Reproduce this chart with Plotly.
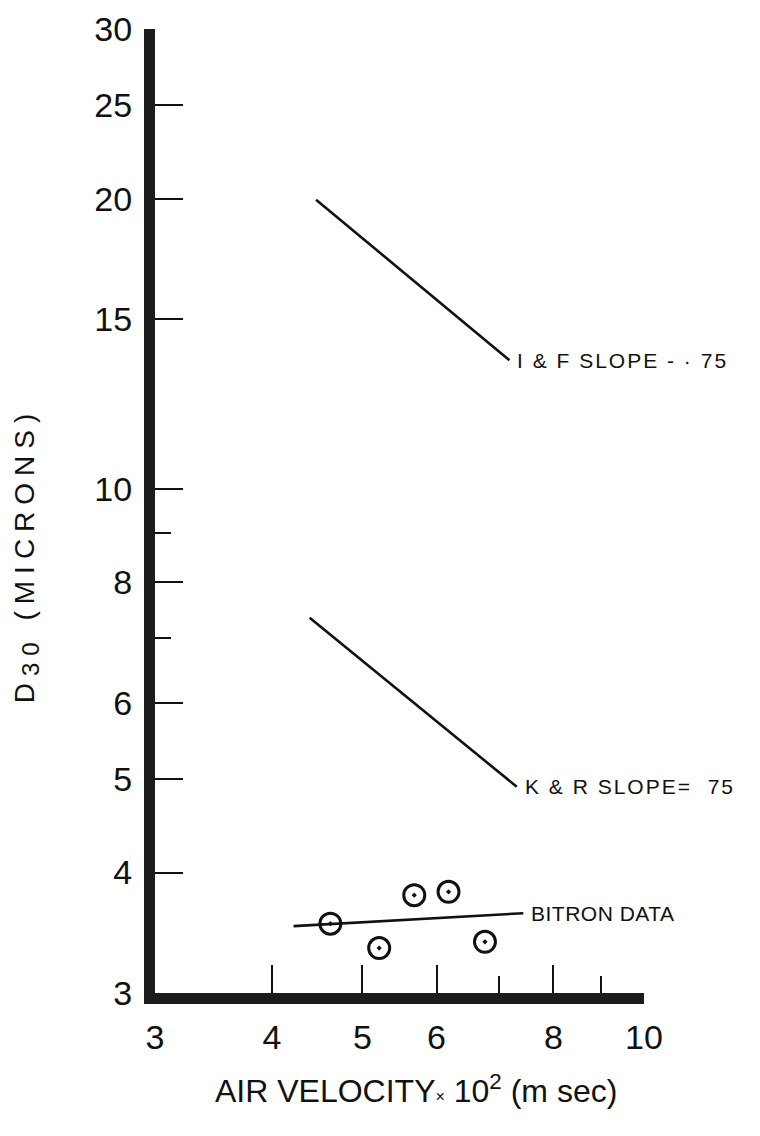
import numpy as np
import plotly.graph_objects as go

# ---- data ----
bitron_x = [4.62, 5.21, 5.68, 6.18, 6.76]
bitron_y = [3.54, 3.34, 3.79, 3.82, 3.39]

bitron_fit_x = [4.22, 7.43]
bitron_fit_y = [3.52, 3.63]

if_x = [4.46, 7.18]
if_y = [19.95, 13.6]

kr_x = [4.39, 7.31]
kr_y = [7.35, 4.91]

x_tickvals = [3, 4, 5, 6, 8, 10]
x_ticktext = ["3", "4", "5", "6", "8", "10"]
x_minor = [7, 9]
y_tickvals = [3, 4, 5, 6, 8, 10, 15, 20, 25, 30]
y_ticktext = ["3", "4", "5", "6", "8", "10", "15", "20", "25", "30"]
y_minor = [7, 9]

labels = ["I &amp; F SLOPE - · 75", "K &amp; R SLOPE=  75", "BITRON DATA"]

FONT = "Liberation Sans, Arial, sans-serif"
INK = "#111111"


def spaced(txt, px):
    return f'<span style="letter-spacing:{px}px">{txt}</span>'


fig = go.Figure()
line_style = dict(color=INK, width=2.6)
fig.add_trace(go.Scatter(x=if_x, y=if_y, mode="lines", line=line_style, showlegend=False))
fig.add_trace(go.Scatter(x=kr_x, y=kr_y, mode="lines", line=line_style, showlegend=False))
fig.add_trace(go.Scatter(x=bitron_fit_x, y=bitron_fit_y, mode="lines", line=line_style, showlegend=False))
fig.add_trace(go.Scatter(
    x=bitron_x, y=bitron_y, mode="markers", showlegend=False,
    marker=dict(symbol="circle-open-dot", size=21, color=INK, line=dict(width=3, color=INK)),
))

ann_font = dict(family=FONT, size=21, color=INK)
for lx, ly, txt, sp in [(if_x[-1], if_y[-1], labels[0], 2), (kr_x[-1], kr_y[-1], labels[1], 2),
                        (bitron_fit_x[-1], bitron_fit_y[-1], labels[2], 0.5)]:
    fig.add_annotation(x=np.log10(lx), y=np.log10(ly), text=spaced(txt, sp), showarrow=False,
                       xanchor="left", yanchor="middle", xshift=6, font=ann_font)

# axis titles as annotations for precise placement
fig.add_annotation(xref="paper", yref="paper", x=0.534, y=-0.1, xanchor="center", yanchor="middle",
                   text='AIR VELOCITY<span style="font-size:16px">×</span> 10<sup>2</sup> (m sec)',
                   showarrow=False, font=dict(family=FONT, size=32, color=INK))
fig.add_annotation(xref="paper", yref="paper", x=-0.262, y=0.455, xanchor="center", yanchor="middle",
                   text=spaced('D<sub><span style="font-size:24px">30</span></sub> (MICRONS)', 7),
                   showarrow=False, textangle=-90,
                   font=dict(family=FONT, size=28, color=INK))

fig.update_xaxes(
    type="log", range=[np.log10(3), np.log10(10)],
    tickmode="array", tickvals=x_tickvals, ticktext=x_ticktext,
    ticks="inside", ticklen=28, tickwidth=2.2, tickcolor=INK,
    minor=dict(tickmode="array", tickvals=x_minor, ticks="inside", ticklen=17, tickwidth=2.2, tickcolor=INK),
    showline=True, linewidth=11, linecolor="#1c1c1c",
    showgrid=False, zeroline=False, ticklabelstandoff=4,
    tickfont=dict(family=FONT, size=34, color=INK),
)
fig.update_yaxes(
    type="log", range=[np.log10(3), np.log10(30)],
    tickmode="array", tickvals=y_tickvals, ticktext=y_ticktext,
    ticks="inside", ticklen=28, tickwidth=2.2, tickcolor=INK,
    minor=dict(tickmode="array", tickvals=y_minor, ticks="inside", ticklen=16, tickwidth=2.2, tickcolor=INK),
    showline=True, linewidth=11, linecolor="#1c1c1c",
    showgrid=False, zeroline=False, ticklabelstandoff=5,
    tickfont=dict(family=FONT, size=34, color=INK),
)

fig.update_layout(
    width=760, height=1136,
    margin=dict(l=147, r=124, t=21, b=151, autoexpand=False),
    paper_bgcolor="white", plot_bgcolor="white",
    font=dict(family=FONT, color=INK),
)

fig.write_html("out.html")
